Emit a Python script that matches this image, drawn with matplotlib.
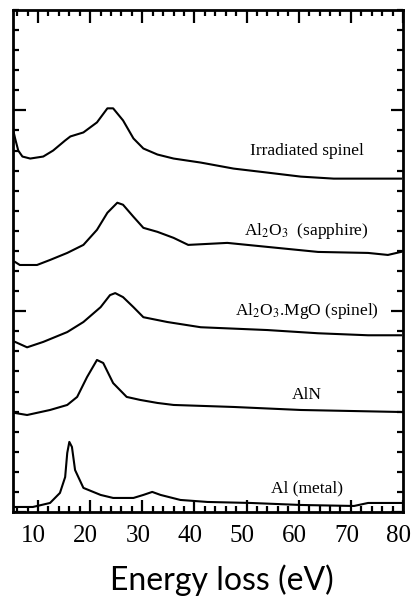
import matplotlib.pyplot as plt
from matplotlib.ticker import MultipleLocator
from matplotlib.transforms import ScaledTranslation

plt.rcParams['mathtext.fontset'] = 'stix'

# energy loss (eV) and stacked intensity (offset, arb. units)
irr_x = [5.25, 5.6, 6.2, 7.0, 8.5, 11.0, 12.9, 15.2, 16.2, 18.7, 21.3, 23.3, 24.4, 26.3, 28.3, 30.2, 32.9, 36.0, 41.2, 47.5, 54.0, 60.4, 66.7, 79.6]
irr_y = [19.0, 18.6, 18.0, 17.7, 17.6, 17.7, 18.0, 18.5, 18.7, 18.9, 19.4, 20.1, 20.1, 19.5, 18.6, 18.1, 17.8, 17.6, 17.4, 17.1, 16.9, 16.7, 16.6, 16.6]

sap_x = [5.6, 6.5, 9.8, 12.3, 15.6, 18.7, 21.3, 23.3, 25.2, 26.3, 28.3, 30.2, 32.9, 36.0, 38.8, 46.3, 54.0, 63.7, 73.3, 77.1, 79.6]
sap_y = [12.45, 12.3, 12.3, 12.55, 12.9, 13.3, 14.05, 14.9, 15.4, 15.3, 14.7, 14.15, 13.95, 13.65, 13.3, 13.4, 13.2, 12.95, 12.9, 12.8, 12.95]

spi_x = [5.6, 7.9, 11.0, 15.6, 18.7, 22.0, 23.8, 24.8, 26.3, 28.3, 30.2, 34.8, 41.2, 54.0, 63.7, 73.3, 79.6]
spi_y = [8.47, 8.2, 8.47, 8.96, 9.46, 10.2, 10.8, 10.9, 10.7, 10.2, 9.7, 9.46, 9.2, 9.06, 8.9, 8.8, 8.8]

aln_x = [5.6, 7.9, 12.3, 15.6, 17.5, 19.4, 21.3, 22.5, 24.4, 27.0, 29.6, 32.9, 36.0, 47.5, 60.4, 79.6]
aln_y = [4.93, 4.83, 5.08, 5.33, 5.73, 6.72, 7.57, 7.42, 6.42, 5.73, 5.58, 5.43, 5.33, 5.23, 5.08, 4.98]

al_x = [5.6, 9.0, 12.3, 14.2, 15.2, 15.6, 16.0, 16.5, 17.1, 18.7, 22.0, 24.4, 28.3, 30.2, 31.9, 33.5, 37.3, 42.5, 50.8, 60.4, 70.6, 73.3, 79.6]
al_y = [0.25, 0.25, 0.45, 0.95, 1.74, 2.94, 3.49, 3.24, 2.09, 1.2, 0.85, 0.7, 0.7, 0.85, 1.0, 0.85, 0.6, 0.5, 0.45, 0.35, 0.3, 0.45, 0.45]

labels = ['Irradiated spinel', 'Al$_2$O$_3$  (sapphire)', 'Al$_2$O$_3$.MgO (spinel)', 'AlN', 'Al (metal)']
label_y = [17.98, 14.0, 10.0, 5.83, 1.2]

fig = plt.figure(figsize=(4.12, 6.02), dpi=100)
ax = fig.add_axes([0.0316, 0.1495, 0.9466, 0.834])

for xs, ys in [(irr_x, irr_y), (sap_x, sap_y), (spi_x, spi_y), (aln_x, aln_y), (al_x, al_y)]:
    ax.plot(xs, ys, color='black', lw=1.5)

for lab, yy in zip(labels, label_y):
    ax.text(61.5, yy, lab, ha='center', va='center', fontsize=12.5, family='Liberation Serif')

ax.set_xlim(5.2, 80)
ax.set_ylim(0, 25)
ax.xaxis.set_major_locator(MultipleLocator(10))
ax.xaxis.set_minor_locator(MultipleLocator(2))
ax.yaxis.set_major_locator(MultipleLocator(10))
ax.yaxis.set_minor_locator(MultipleLocator(1))
ax.tick_params(which='both', direction='in', top=True, right=True, width=1.6, labelleft=False)
ax.tick_params(which='major', length=9)
ax.tick_params(which='minor', length=4.5)
ax.tick_params(axis='x', labelsize=18, pad=9)
for s in ax.spines.values():
    s.set_linewidth(2)

ax.set_xlabel('Energy loss (eV)', fontsize=23, family='Lato')
ax.xaxis.set_label_coords(0.535, -0.104)

# tick labels sit a little left of their ticks in the original
fig.canvas.draw()
shift = ScaledTranslation(-4.5 / 100, 0, fig.dpi_scale_trans)
for lbl in ax.get_xticklabels():
    lbl.set_family('Liberation Serif')
    lbl.set_transform(lbl.get_transform() + shift)

fig.savefig('out.png', dpi=100)
